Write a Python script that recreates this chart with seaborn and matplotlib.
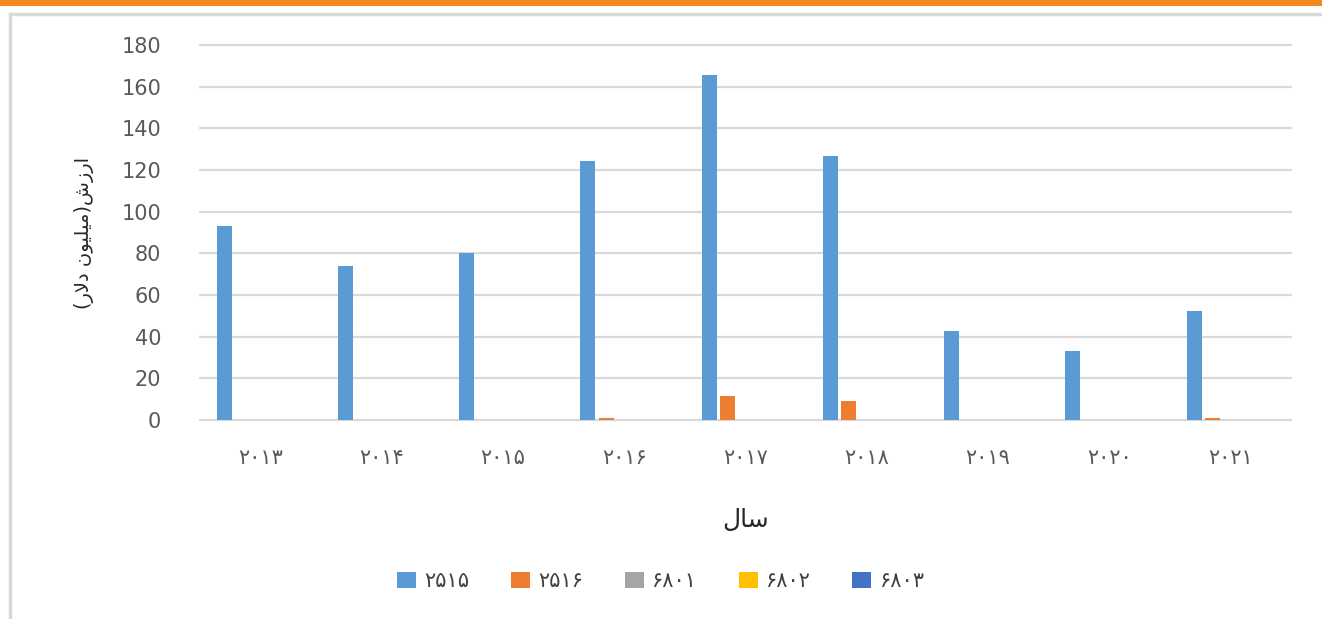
import numpy as np
import pandas as pd
import seaborn as sns
import matplotlib.pyplot as plt
from matplotlib.patches import Rectangle

# ------------------------------------------------------------
# data (million dollars)
# ------------------------------------------------------------
years = ["۲۰۱۳", "۲۰۱۴", "۲۰۱۵", "۲۰۱۶", "۲۰۱۷", "۲۰۱۸", "۲۰۱۹", "۲۰۲۰", "۲۰۲۱"]
codes = ["۲۵۱۵", "۲۵۱۶", "۶۸۰۱", "۶۸۰۲", "۶۸۰۳"]
v2515 = [93, 74, 80, 124.5, 165.5, 126.5, 42.5, 33, 52.5]
v2516 = [0, 0, 0, 0.8, 11.5, 9, 0, 0, 0.8]
v6801 = [0, 0, 0, 0, 0, 0, 0, 0, 0]
v6802 = [0, 0, 0, 0, 0, 0, 0, 0, 0]
v6803 = [0, 0, 0, 0, 0, 0, 0, 0, 0]
colors = ["#5B9BD5", "#ED7D31", "#A5A5A5", "#FFC000", "#4472C4"]

# Arabic text written in presentation forms, visual order (matplotlib does no shaping)
x_title = "\uFEDD\uFE8E\uFEB3"  # سال
y_title = ("(\uFEAD\uFEFB\uFEA9 \uFEE5\uFEEE\uFEF4\uFEE0\uFEF4\uFEE3)"
           "\uFEB5\uFEAF\uFEAD\uFE8D")  # ارزش(میلیون دلار)

rows = []
for code, vals in zip(codes, [v2515, v2516, v6801, v6802, v6803]):
    for yr, v in zip(years, vals):
        rows.append({"year": yr, "code": code, "value": v})
df = pd.DataFrame(rows)

# ------------------------------------------------------------
# plot
# ------------------------------------------------------------
sns.set_style("white")
plt.rcParams["font.family"] = ["DejaVu Sans"]

fig = plt.figure(figsize=(13.22, 6.19), dpi=100)
ax = fig.add_axes([0.1513, 0.3215, 0.8253, 0.6058])

sns.barplot(data=df, x="year", y="value", hue="code", order=years,
            hue_order=codes, palette=colors, width=0.75, ax=ax,
            linewidth=0, saturation=1, legend=True)

# small gap between neighbouring bars, like the original
for p in ax.patches:
    w = p.get_width()
    p.set_x(p.get_x() + w * 0.09)
    p.set_width(w * 0.82)

ax.set_ylim(0, 180)
ax.set_yticks(range(0, 181, 20))
ax.yaxis.grid(True, color="#D9D9D9", linewidth=1.6)
for gl in ax.get_ygridlines():
    gl.set_clip_on(False)
ax.set_axisbelow(True)
for s in ax.spines.values():
    s.set_visible(False)
ax.tick_params(axis="both", length=0, colors="#595959", labelsize=15)
ax.tick_params(axis="y", pad=28)
ax.tick_params(axis="x", pad=20)

ax.set_xlabel(x_title, fontsize=18, color="#262626")
ax.xaxis.set_label_coords(0.5, -0.235)
ax.set_ylabel(y_title, fontsize=14, color="#262626")
ax.yaxis.set_label_coords(-0.097, 0.5)

handles, labels = ax.get_legend_handles_labels()
ax.get_legend().remove()
fig.legend(handles, labels, loc="center", bbox_to_anchor=(0.5, 0.061),
           ncol=5, frameon=False, fontsize=15, handlelength=0.9,
           handleheight=0.8, columnspacing=2.0, handletextpad=0.4,
           labelcolor="#404040")

# frame: orange strip on top and light grey border
fig.patches.append(Rectangle((0, 1 - 6 / 619), 1, 6 / 619, transform=fig.transFigure,
                             facecolor="#F5871F", edgecolor="none"))
fig.patches.append(Rectangle((10 / 1322, -0.05), 1.1, 1 - 14 / 619 + 0.05,
                             transform=fig.transFigure, facecolor="none",
                             edgecolor="#D9D9D9", linewidth=2.5))

fig.savefig("out.png", dpi=100)
